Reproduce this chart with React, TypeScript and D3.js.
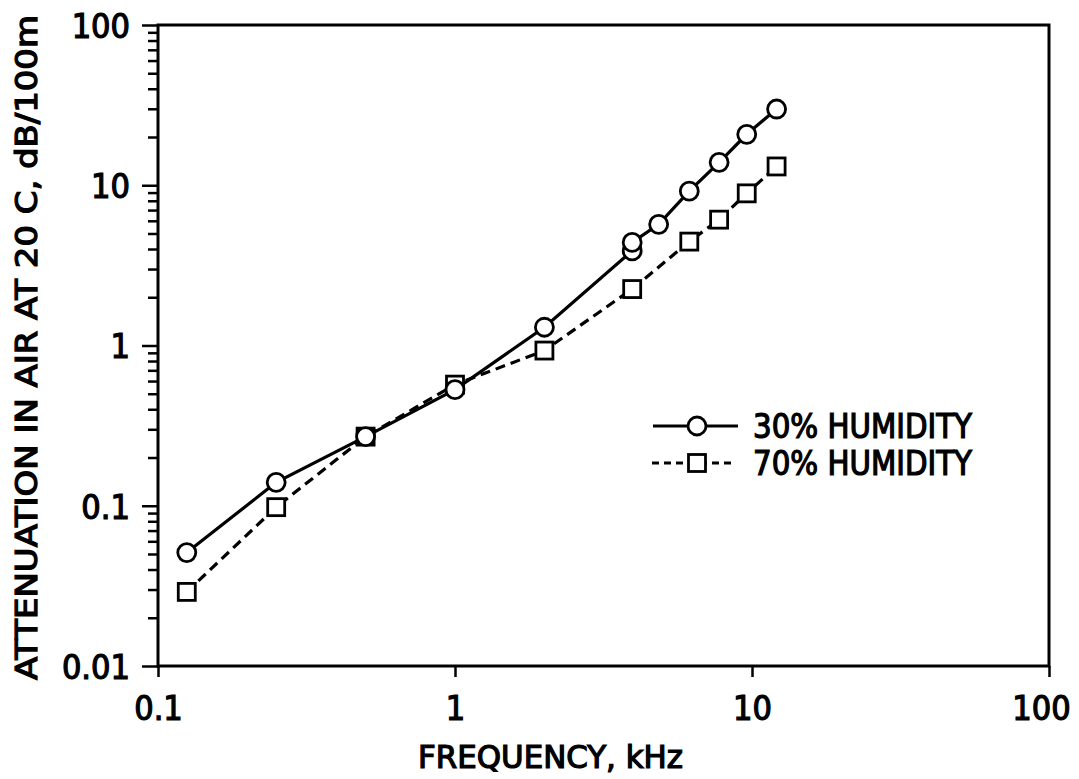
import React, { useRef, useEffect } from 'react';
import * as d3 from 'd3';

// 30% humidity series (circles, solid line)
const freq30 = [0.125, 0.25, 0.5, 1, 2, 3.95, 3.95, 4.85, 6.15, 7.75, 9.6, 12.1];
const att30 = [0.051, 0.14, 0.27, 0.53, 1.3, 3.9, 4.4, 5.7, 9.2, 13.9, 20.8, 29.9];

// 70% humidity series (squares, dashed line)
const freq70 = [0.125, 0.25, 0.5, 1, 2, 3.95, 6.15, 7.75, 9.6, 12.1];
const att70 = [0.029, 0.098, 0.27, 0.57, 0.93, 2.25, 4.45, 6.1, 8.9, 13.1];

const xTicks = [0.1, 1, 10, 100];
const xTickLabels = ['0.1', '1', '10', '100'];
const yTicks = [0.01, 0.1, 1, 10, 100];
const yTickLabels = ['0.01', '0.1', '1', '10', '100'];

const legendLabels = ['30% HUMIDITY', '70% HUMIDITY'];

const FONT = "'DejaVu Sans Condensed', 'DejaVu Sans', sans-serif";

const App = () => {
  const ref = useRef<SVGSVGElement | null>(null);

  useEffect(() => {
    const width = 1079;
    const height = 779;
    const left = 158;
    const right = 1049;
    const top = 25;
    const bottom = 666;

    const svg = d3.select(ref.current);
    svg.selectAll('*').remove();
    svg.attr('width', width).attr('height', height);

    const x = d3.scaleLog().domain([0.1, 100]).range([left, right]);
    const y = d3.scaleLog().domain([0.01, 100]).range([bottom, top]);

    // minor y ticks (2..9 per decade)
    const minorY: number[] = [];
    for (let e = -2; e < 2; e++) {
      for (let k = 2; k <= 9; k++) minorY.push(k * Math.pow(10, e));
    }

    const yMinor = svg.append('g').attr('transform', `translate(${left},0)`)
      .call(d3.axisLeft(y).tickValues(minorY).tickSize(10).tickFormat(() => ''));
    yMinor.select('.domain').remove();

    const yMajor = svg.append('g').attr('transform', `translate(${left},0)`)
      .call(d3.axisLeft(y).tickValues(yTicks).tickSize(16).tickSizeOuter(0)
        .tickFormat((_, i) => yTickLabels[i]));
    yMajor.select('.domain').remove();
    yMajor.selectAll('text').attr('x', -28).attr('dy', '0.36em');

    const xMajor = svg.append('g').attr('transform', `translate(0,${bottom})`)
      .call(d3.axisBottom(x).tickValues(xTicks).tickSize(11).tickSizeOuter(0)
        .tickFormat((_, i) => xTickLabels[i]));
    xMajor.select('.domain').remove();
    xMajor.selectAll('text').attr('y', 54).attr('dy', 0)
      .attr('dx', (_, i) => (i === 3 ? -8 : 0));

    svg.selectAll('.tick line').attr('stroke', '#000').attr('stroke-width', 2.5);
    svg.selectAll('.tick text')
      .attr('fill', '#000')
      .attr('stroke', '#000').attr('stroke-width', 1.2)
      .style('font-family', FONT)
      .style('font-size', '34px');

    // frame
    svg.append('rect')
      .attr('x', left).attr('y', top)
      .attr('width', right - left).attr('height', bottom - top)
      .attr('fill', 'none').attr('stroke', '#000').attr('stroke-width', 3);

    const line = d3.line<[number, number]>().x((d) => x(d[0])).y((d) => y(d[1]));
    const pts30 = freq30.map((f, i) => [f, att30[i]] as [number, number]);
    const pts70 = freq70.map((f, i) => [f, att70[i]] as [number, number]);

    svg.append('path').attr('d', line(pts70)).attr('fill', 'none')
      .attr('stroke', '#000').attr('stroke-width', 3.2).attr('stroke-dasharray', '10,6');
    svg.append('path').attr('d', line(pts30)).attr('fill', 'none')
      .attr('stroke', '#000').attr('stroke-width', 3.2);

    const sq = 17;
    svg.selectAll('.sq').data(pts70).enter().append('rect')
      .attr('x', (d) => x(d[0]) - sq / 2).attr('y', (d) => y(d[1]) - sq / 2)
      .attr('width', sq).attr('height', sq)
      .attr('fill', '#fff').attr('stroke', '#000').attr('stroke-width', 2.8);
    svg.selectAll('.ci').data(pts30).enter().append('circle')
      .attr('cx', (d) => x(d[0])).attr('cy', (d) => y(d[1])).attr('r', 9)
      .attr('fill', '#fff').attr('stroke', '#000').attr('stroke-width', 2.8);

    const textStyle = (sel: any, size: number) => sel
      .attr('fill', '#000').attr('stroke', '#000').attr('stroke-width', 1.2)
      .style('font-family', FONT).style('font-size', `${size}px`);

    // legend
    const lg = svg.append('g');
    lg.append('line').attr('x1', 653).attr('x2', 738).attr('y1', 426).attr('y2', 426)
      .attr('stroke', '#000').attr('stroke-width', 3.2);
    lg.append('circle').attr('cx', 697).attr('cy', 426).attr('r', 9)
      .attr('fill', '#fff').attr('stroke', '#000').attr('stroke-width', 2.8);
    lg.append('line').attr('x1', 652).attr('x2', 735).attr('y1', 463).attr('y2', 463)
      .attr('stroke', '#000').attr('stroke-width', 3).attr('stroke-dasharray', '7,5');
    lg.append('rect').attr('x', 697 - sq / 2).attr('y', 463 - sq / 2).attr('width', sq).attr('height', sq)
      .attr('fill', '#fff').attr('stroke', '#000').attr('stroke-width', 2.8);
    lg.selectAll('.lt').data(legendLabels).enter().append('text')
      .attr('x', 753).attr('y', (_, i) => 438 + i * 37)
      .text((d) => d)
      .call(textStyle, 33)
      .attr('textLength', 219).attr('lengthAdjust', 'spacingAndGlyphs');

    // axis titles
    svg.append('text').attr('x', 418).attr('y', 768)
      .text('FREQUENCY, kHz')
      .call(textStyle, 32)
      .attr('textLength', 265).attr('lengthAdjust', 'spacingAndGlyphs');
    svg.append('text')
      .attr('transform', 'translate(37,680) rotate(-90)')
      .text('ATTENUATION IN AIR AT 20 C, dB/100m')
      .call(textStyle, 31)
      .attr('textLength', 665).attr('lengthAdjust', 'spacingAndGlyphs');
  }, []);

  return <svg ref={ref} style={{ position: 'absolute', left: 0, top: 0, background: '#fff' }} />;
};

export default App;
